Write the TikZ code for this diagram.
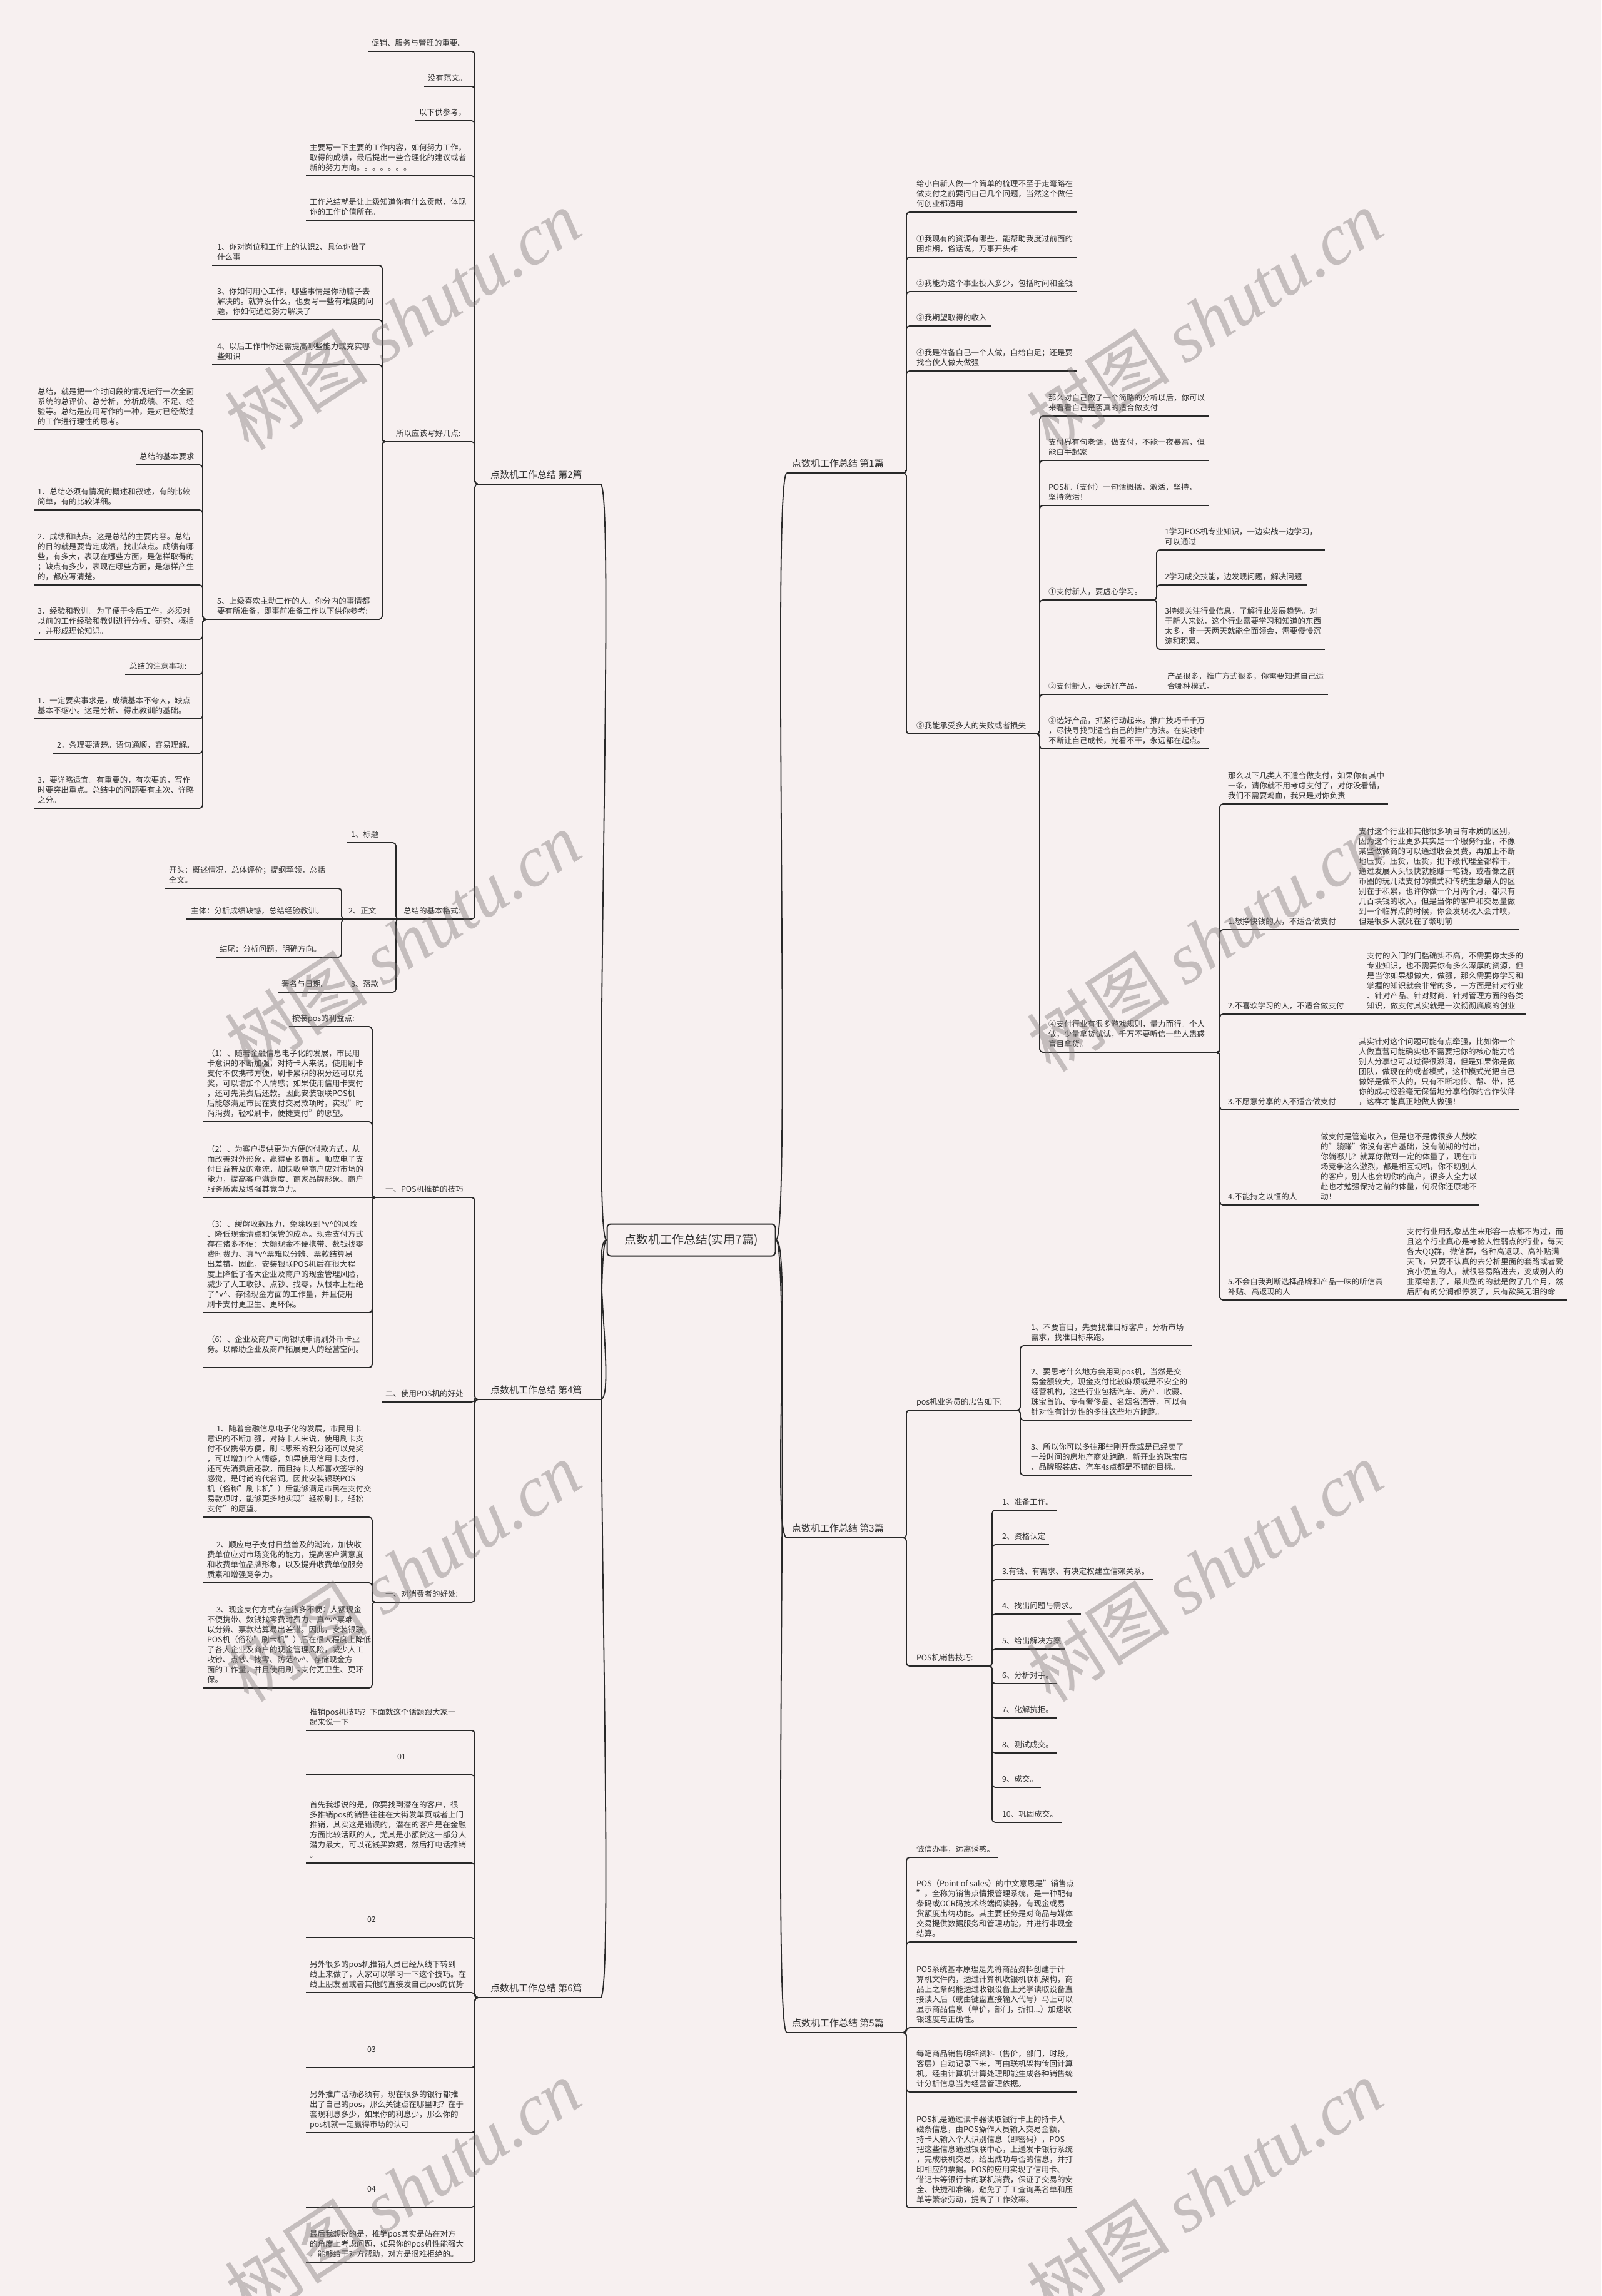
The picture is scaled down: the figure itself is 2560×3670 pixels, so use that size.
\documentclass[tikz,border=0pt]{standalone}
\usepackage{fontspec}
\setmainfont{Noto Sans CJK SC}
\newfontfamily\wmcjk{Noto Sans CJK SC}
\newfontfamily\wmlat{Liberation Serif}
\definecolor{bgc}{RGB}{247,240,240}
\definecolor{lnc}{RGB}{40,40,40}
\definecolor{txc}{RGB}{51,51,51}
\definecolor{wmc}{RGB}{120,114,114}
\newcommand\fa{\fontsize{12.5pt}{16pt}\selectfont}
\newcommand\fb{\fontsize{15pt}{18pt}\selectfont}
\newcommand\fr{\fontsize{19pt}{22pt}\selectfont}
\newcommand\myhv{\textasciicircum v\textasciicircum}
\newcommand\tl[1]{\begin{tabular}[b]{@{}l@{}}#1\end{tabular}}
\tikzset{
 mn/.style={anchor=south west, inner xsep=0pt, inner ysep=4.2pt, outer sep=0pt, text=txc},
 uline/.style={draw=lnc, line width=1.8pt},
 conn/.style={draw=lnc, line width=1.8pt, rounded corners=5pt},
 rootbox/.style={draw=lnc, line width=2pt, rounded corners=6pt, fill=bgc, minimum width=269pt, minimum height=51pt, font=\fr, text=txc, inner sep=0pt},
 wm/.style={rotate=33, text=wmc, opacity=0.4, inner sep=0pt},
}
% name, xs, xe, yU, pad, font, text
\newcommand\mynode[7]{%
 \pgfmathsetlengthmacro\mnw{#3-#2}%
 \node[mn, font=#6] (#1) at (#2,#4) {\makebox[\mnw][l]{\hspace*{#5pt}\tl{#7}}};
 \draw[uline] (#1.south west) -- (#1.south east);}
\newcommand\conR[2]{\draw[conn] (#1.south east) -- ++(5,0) |- (#2.south west);}
\newcommand\conL[2]{\draw[conn] (#1.south west) -- ++(-5,0) |- (#2.south east);}
\newcommand\strR[2]{\draw[conn] (#1.south east) -- (#2.south west);}
\newcommand\strL[2]{\draw[conn] (#1.south west) -- (#2.south east);}
\begin{document}
\begin{tikzpicture}[x=1pt,y=-1pt]
\fill[bgc] (0,0) rectangle (2560,3670);
\useasboundingbox (0,0) rectangle (2560,3670);

% root
\node[rootbox] (root) at (1105,1982) {点数机工作总结(实用7篇)};

% main labels
\mynode{B1}{1258}{1444}{756}{8}{\fb}{点数机工作总结 第1篇}
\mynode{B3}{1258}{1444}{2458}{8}{\fb}{点数机工作总结 第3篇}
\mynode{B5}{1258}{1444}{3249}{8}{\fb}{点数机工作总结 第5篇}
\mynode{B2}{764}{960}{774}{20}{\fb}{点数机工作总结 第2篇}
\mynode{B4}{764}{960}{2237}{20}{\fb}{点数机工作总结 第4篇}
\mynode{B6}{764}{960}{3193}{20}{\fb}{点数机工作总结 第6篇}

\draw[conn] (root.east) .. controls +(25,0) and +(-25,0) .. (B1.south west);
\draw[conn] (root.east) .. controls +(25,0) and +(-25,0) .. (B3.south west);
\draw[conn] (root.east) .. controls +(25,0) and +(-25,0) .. (B5.south west);
\draw[conn] (root.west) .. controls +(-25,0) and +(25,0) .. (B2.south east);
\draw[conn] (root.west) .. controls +(-25,0) and +(25,0) .. (B4.south east);
\draw[conn] (root.west) .. controls +(-25,0) and +(25,0) .. (B6.south east);

% ---------- 第2篇 ----------
\mynode{L1}{589}{753}{82}{5}{\fa}{促销、服务与管理的重要。}
\mynode{L2}{678}{753}{138}{6}{\fa}{没有范文。}
\mynode{L3}{664}{753}{193}{6}{\fa}{以下供参考，}
\mynode{L4}{489}{753}{281}{6}{\fa}{主要写一下主要的工作内容，如何努力工作，\\取得的成绩，最后提出一些合理化的建议或者\\新的努力方向。。。。。。。}
\mynode{L5}{489}{753}{352}{6}{\fa}{工作总结就是让上级知道你有什么贡献，体现\\你的工作价值所在。}
\mynode{L6}{616}{753}{706}{17}{\fa}{所以应该写好几点:}
\mynode{L7}{638}{753}{1469}{7}{\fa}{总结的基本格式:}
\conL{B2}{L1}\conL{B2}{L2}\conL{B2}{L3}\conL{B2}{L4}\conL{B2}{L5}\conL{B2}{L6}\conL{B2}{L7}

\mynode{L6a}{339}{605}{424}{8}{\fa}{1、你对岗位和工作上的认识2、具体你做了\\什么事}
\mynode{L6b}{339}{605}{511}{8}{\fa}{3、你如何用心工作，哪些事情是你动脑子去\\解决的。就算没什么，也要写一些有难度的问\\题，你如何通过努力解决了}
\mynode{L6c}{339}{605}{583}{8}{\fa}{4、以后工作中你还需提高哪些能力或充实哪\\些知识}
\mynode{L6d}{329}{605}{990}{18}{\fa}{5、上级喜欢主动工作的人。你分内的事情都\\要有所准备，即事前准备工作以下供你参考:}
\conL{L6}{L6a}\conL{L6}{L6b}\conL{L6}{L6c}\conL{L6}{L6d}

\mynode{D1}{54}{319}{687}{6}{\fa}{总结，就是把一个时间段的情况进行一次全面\\系统的总评价、总分析，分析成绩、不足、经\\验等。总结是应用写作的一种，是对已经做过\\的工作进行理性的思考。}
\mynode{D2}{217}{319}{743}{6}{\fa}{总结的基本要求}
\mynode{D3}{54}{319}{815}{6}{\fa}{1．总结必须有情况的概述和叙述，有的比较\\简单，有的比较详细。}
\mynode{D4}{54}{319}{935}{6}{\fa}{2．成绩和缺点。这是总结的主要内容。总结\\的目的就是要肯定成绩，找出缺点。成绩有哪\\些，有多大，表现在哪些方面，是怎样取得的\\；缺点有多少，表现在哪些方面，是怎样产生\\的，都应写清楚。}
\mynode{D5}{54}{319}{1022}{6}{\fa}{3．经验和教训。为了便于今后工作，必须对\\以前的工作经验和教训进行分析、研究、概括\\，并形成理论知识。}
\mynode{D6}{200}{319}{1078}{7}{\fa}{总结的注意事项:}
\mynode{D7}{54}{319}{1149}{6}{\fa}{1．一定要实事求是，成绩基本不夸大，缺点\\基本不缩小。这是分析、得出教训的基础。}
\mynode{D8}{84}{319}{1204}{7}{\fa}{2．条理要清楚。语句通顺，容易理解。}
\mynode{D9}{54}{319}{1292}{6}{\fa}{3．要详略适宜。有重要的，有次要的，写作\\时要突出重点。总结中的问题要有主次、详略\\之分。}
\conL{L6d}{D1}\conL{L6d}{D2}\conL{L6d}{D3}\conL{L6d}{D4}\conL{L6d}{D5}\conL{L6d}{D6}\conL{L6d}{D7}\conL{L6d}{D8}\conL{L6d}{D9}

\mynode{G1}{555}{626}{1347}{6}{\fa}{1、标题}
\mynode{G2}{551}{626}{1469}{6}{\fa}{2、正文}
\mynode{G3}{555}{626}{1586}{6}{\fa}{3、落款}
\conL{L7}{G1}\strL{L7}{G2}\conL{L7}{G3}
\mynode{G2a}{264}{539}{1420}{6}{\fa}{开头：概述情况，总体评价；提纲挈领，总括\\全文。}
\mynode{G2b}{298}{539}{1469}{7}{\fa}{主体：分析成绩缺憾，总结经验教训。}
\mynode{G2c}{345}{539}{1530}{6}{\fa}{结尾：分析问题，明确方向。}
\conL{G2}{G2a}\strL{G2}{G2b}\conL{G2}{G2c}
\mynode{G3a}{444}{555}{1586}{6}{\fa}{署名与日期。}
\strL{G3}{G3a}

% ---------- 第4篇 ----------
\mynode{F1}{600}{753}{1914}{16}{\fa}{一、POS机推销的技巧}
\mynode{F2}{610}{753}{2241}{6}{\fa}{二、使用POS机的好处}
\mynode{F3}{600}{753}{2561}{16}{\fa}{一、对消费者的好处:}
\conL{B4}{F1}\conL{B4}{F2}\conL{B4}{F3}
\mynode{F1a}{462}{588}{1641}{5}{\fa}{按装pos的利益点:}
\mynode{F1b}{324}{588}{1793}{7}{\fa}{（1）、随着金融信息电子化的发展，市民用\\卡意识的不断加强，对持卡人来说，使用刷卡\\支付不仅携带方便，刷卡累积的积分还可以兑\\奖，可以增加个人情感；如果使用信用卡支付\\，还可先消费后还款。因此安装银联POS机\\后能够满足市民在支付交易款项时，实现"时\\尚消费，轻松刷卡，便捷支付"的愿望。}
\mynode{F1c}{324}{588}{1914}{7}{\fa}{（2）、为客户提供更为方便的付款方式，从\\而改善对外形象，赢得更多商机。顺应电子支\\付日益普及的潮流，加快收单商户应对市场的\\能力，提高客户满意度、商家品牌形象、商户\\服务质素及增强其竞争力。}
\mynode{F1d}{324}{588}{2098}{7}{\fa}{（3）、缓解收款压力，免除收到\myhv 的风险\\、降低现金清点和保管的成本。现金支付方式\\存在诸多不便：大额现金不便携带、数钱找零\\费时费力、真\myhv 票难以分辨、票款结算易\\出差错。因此，安装银联POS机后在很大程\\度上降低了各大企业及商户的现金管理风险，\\减少了人工收钞、点钞、找零，从根本上杜绝\\了\myhv 、存储现金方面的工作量，并且使用\\刷卡支付更卫生、更环保。}
\mynode{F1e}{324}{588}{2186}{7}{\fa}{（6）、企业及商户可向银联申请刷外币卡业\\务。以帮助企业及商户拓展更大的经营空间。\\ \strut}
\conL{F1}{F1a}\conL{F1}{F1b}\strL{F1}{F1c}\conL{F1}{F1d}\conL{F1}{F1e}
\mynode{F3a}{324}{588}{2425}{7}{\fa}{\hspace*{15pt}1、随着金融信息电子化的发展，市民用卡\\意识的不断加强，对持卡人来说，使用刷卡支\\付不仅携带方便，刷卡累积的积分还可以兑奖\\，可以增加个人情感，如果使用信用卡支付，\\还可先消费后还款，而且持卡人都喜欢签字的\\感觉，是时尚的代名词。因此安装银联POS\\机（俗称"刷卡机"）后能够满足市民在支付交\\易款项时，能够更多地实现"轻松刷卡，轻松\\支付"的愿望。}
\mynode{F3b}{324}{588}{2530}{7}{\fa}{\hspace*{15pt}2、顺应电子支付日益普及的潮流，加快收\\费单位应对市场变化的能力，提高客户满意度\\和收费单位品牌形象，以及提升收费单位服务\\质素和增强竞争力。}
\mynode{F3c}{324}{588}{2698}{7}{\fa}{\hspace*{15pt}3、现金支付方式存在诸多不便：大额现金\\不便携带、数钱找零费时费力、真\myhv 票难\\以分辨、票款结算易出差错。因此，安装银联\\POS机（俗称"刷卡机"）后在很大程度上降低\\了各大企业及商户的现金管理风险，减少人工\\收钞、点钞、找零、防范\myhv 、存储现金方\\面的工作量，并且使用刷卡支付更卫生、更环\\保。}
\conL{F3}{F3a}\conL{F3}{F3b}\conL{F3}{F3c}

% ---------- 第6篇 ----------
\mynode{S1}{489}{753}{2766}{6}{\fa}{推销pos机技巧？下面就这个话题跟大家一\\起来说一下}
\mynode{S2}{489}{753}{2837}{146}{\fa}{01\\ \strut}
\mynode{S3}{489}{753}{2978}{6}{\fa}{首先我想说的是，你要找到潜在的客户，很\\多推销pos的销售往往在大街发单页或者上门\\推销，其实这是错误的，潜在的客户是在金融\\方面比较活跃的人，尤其是小额贷这一部分人\\潜力最大，可以花钱买数据，然后打电话推销\\。}
\mynode{S4}{489}{753}{3097}{98}{\fa}{02\\ \strut}
\mynode{S5}{489}{753}{3185}{6}{\fa}{另外很多的pos机推销人员已经从线下转到\\线上来做了，大家可以学习一下这个技巧。在\\线上朋友圈或者其他的直接发自己pos的优势}
\mynode{S6}{489}{753}{3305}{98}{\fa}{03\\ \strut}
\mynode{S7}{489}{753}{3409}{6}{\fa}{另外推广活动必须有，现在很多的银行都推\\出了自己的pos，那么关键点在哪里呢？在于\\套现利息多少，如果你的利息少，那么你的\\pos机就一定赢得市场的认可}
\mynode{S8}{489}{753}{3528}{98}{\fa}{04\\ \strut}
\mynode{S9}{489}{753}{3616}{6}{\fa}{最后我想说的是，推销pos其实是站在对方\\的角度上考虑问题，如果你的pos机性能强大\\，能够给于对方帮助，对方是很难拒绝的。}
\conL{B6}{S1}\conL{B6}{S2}\conL{B6}{S3}\conL{B6}{S4}\conL{B6}{S5}\conL{B6}{S6}\conL{B6}{S7}\conL{B6}{S8}\conL{B6}{S9}

% ---------- 第1篇 ----------
\mynode{R1}{1457}{1722}{339}{8}{\fa}{给小白新人做一个简单的梳理不至于走弯路在\\做支付之前要问自己几个问题，当然这个做任\\何创业都适用}
\mynode{R2}{1457}{1722}{411}{8}{\fa}{①我现有的资源有哪些，能帮助我度过前面的\\困难期，俗话说，万事开头难}
\mynode{R3}{1457}{1722}{466}{8}{\fa}{②我能为这个事业投入多少，包括时间和金钱}
\mynode{R4}{1457}{1585}{521}{8}{\fa}{③我期望取得的收入}
\mynode{R5}{1457}{1722}{593}{8}{\fa}{④我是准备自己一个人做，自给自足；还是要\\找合伙人做大做强}
\mynode{R6}{1457}{1657}{1173}{8}{\fa}{⑤我能承受多大的失败或者损失}
\conR{B1}{R1}\conR{B1}{R2}\conR{B1}{R3}\conR{B1}{R4}\conR{B1}{R5}\conR{B1}{R6}

\mynode{R6a}{1668}{1933}{665}{8}{\fa}{那么对自己做了一个简略的分析以后，你可以\\来看看自己是否真的适合做支付}
\mynode{R6b}{1668}{1933}{736}{8}{\fa}{支付界有句老话，做支付，不能一夜暴富，但\\能白手起家}
\mynode{R6c}{1668}{1933}{808}{8}{\fa}{POS机（支付）一句话概括，激活，坚持，\\坚持激活！}
\mynode{R6d}{1668}{1844}{959}{8}{\fa}{①支付新人，要虚心学习。}
\mynode{R6e}{1668}{1862}{1110}{8}{\fa}{②支付新人，要选好产品。}
\mynode{R6f}{1668}{1933}{1197}{8}{\fa}{③选好产品，抓紧行动起来。推广技巧千千万\\，尽快寻找到适合自己的推广方法。在实践中\\不断让自己成长，光看不干，永远都在起点。}
\mynode{R6g}{1668}{1945}{1682}{8}{\fa}{④支付行业有很多游戏规则，量力而行。个人\\做，少量拿货试试，千万不要听信一些人蛊惑\\盲目拿货。}
\conR{R6}{R6a}\conR{R6}{R6b}\conR{R6}{R6c}\conR{R6}{R6d}\conR{R6}{R6e}\conR{R6}{R6f}\conR{R6}{R6g}

\mynode{R6d1}{1855}{2118}{879}{7}{\fa}{1学习POS机专业知识，一边实战一边学习，\\可以通过}
\mynode{R6d2}{1855}{2089}{935}{7}{\fa}{2学习成交技能，边发现问题，解决问题}
\mynode{R6d3}{1855}{2118}{1038}{7}{\fa}{3持续关注行业信息，了解行业发展趋势。对\\于新人来说，这个行业需要学习和知道的东西\\太多，非一天两天就能全面领会，需要慢慢沉\\淀和积累。}
\conR{R6d}{R6d1}\conR{R6d}{R6d2}\conR{R6d}{R6d3}
\mynode{R6e1}{1862}{2123}{1110}{4}{\fa}{产品很多，推广方式很多，你需要知道自己适\\合哪种模式。}
\strR{R6e}{R6e1}

\mynode{W0}{1956}{2219}{1285}{7}{\fa}{那么以下几类人不适合做支付，如果你有其中\\一条，请你就不用考虑支付了，对你没看错，\\我们不需要鸡血，我只是对你负责}
\mynode{W1}{1956}{2162}{1486}{7}{\fa}{1.想挣快钱的人，不适合做支付}
\mynode{W2}{1956}{2175}{1621}{7}{\fa}{2.不喜欢学习的人，不适合做支付}
\mynode{W3}{1956}{2162}{1774}{7}{\fa}{3.不愿意分享的人不适合做支付}
\mynode{W4}{1956}{2100}{1926}{7}{\fa}{4.不能持之以恒的人}
\mynode{W5}{1956}{2238}{2078}{7}{\fa}{5.不会自我判断选择品牌和产品一味的听信高\\补贴、高返现的人}
\conR{R6g}{W0}\conR{R6g}{W1}\conR{R6g}{W2}\conR{R6g}{W3}\conR{R6g}{W4}\conR{R6g}{W5}
\mynode{W1c}{2162}{2428}{1486}{10}{\fa}{支付这个行业和其他很多项目有本质的区别，\\因为这个行业更多其实是一个服务行业，不像\\某些做微商的可以通过收会员费，再加上不断\\地压货，压货，压货，把下级代理全都榨干，\\通过发展人头很快就能赚一笔钱，或者像之前\\币圈的玩儿法支付的模式和传统生意最大的区\\别在于积累，也许你做一个月两个月，都只有\\几百块钱的收入，但是当你的客户和交易量做\\到一个临界点的时候，你会发现收入会井喷，\\但是很多人就死在了黎明前}
\mynode{W2c}{2175}{2439}{1621}{10}{\fa}{支付的入门的门槛确实不高，不需要你太多的\\专业知识，也不需要你有多么深厚的资源，但\\是当你如果想做大，做强，那么需要你学习和\\掌握的知识就会非常的多，一方面是针对行业\\、针对产品、针对财商、针对管理方面的各类\\知识，做支付其实就是一次彻彻底底的创业}
\mynode{W3c}{2162}{2428}{1774}{10}{\fa}{其实针对这个问题可能有点牵强，比如你一个\\人做直营可能确实也不需要把你的核心能力给\\别人分享也可以过得很滋润，但是如果你是做\\团队，做现在的或者模式，这种模式光把自己\\做好是做不大的，只有不断地传、帮、带，把\\你的成功经验毫无保留地分享给你的合作伙伴\\，这样才能真正地做大做强！}
\mynode{W4c}{2100}{2365}{1926}{11}{\fa}{做支付是管道收入，但是也不是像很多人鼓吹\\的"躺赚"你没有客户基础，没有前期的付出，\\你躺哪儿？就算你做到一定的体量了，现在市\\场竞争这么激烈，都是相互切机，你不切别人\\的客户，别人也会切你的商户，很多人全力以\\赴也才勉强保持之前的体量，何况你还原地不\\动！}
\mynode{W5c}{2238}{2505}{2078}{11}{\fa}{支付行业用乱象丛生来形容一点都不为过，而\\且这个行业真心是考验人性弱点的行业，每天\\各大QQ群，微信群，各种高返现、高补贴满\\天飞，只要不认真的去分析里面的套路或者爱\\贪小便宜的人，就很容易陷进去，变成别人的\\韭菜给割了，最典型的的就是做了几个月，然\\后所有的分润都停发了，只有欲哭无泪的命}
\strR{W1}{W1c}\strR{W2}{W2c}\strR{W3}{W3c}\strR{W4}{W4c}\strR{W5}{W5c}

% ---------- 第3篇 ----------
\mynode{T1}{1457}{1626}{2254}{8}{\fa}{pos机业务员的忠告如下:}
\mynode{T2}{1457}{1581}{2663}{8}{\fa}{POS机销售技巧:}
\conR{B3}{T1}\conR{B3}{T2}
\mynode{T1a}{1639}{1906}{2151}{9}{\fa}{1、不要盲目，先要找准目标客户，分析市场\\需求，找准目标来跑。}
\mynode{T1b}{1639}{1906}{2270}{9}{\fa}{2、要思考什么地方会用到pos机，当然是交\\易金额较大，现金支付比较麻烦或是不安全的\\经营机构，这些行业包括汽车、房产、收藏、\\珠宝首饰、专有奢侈品、名烟名酒等，可以有\\针对性有计划性的多往这些地方跑跑。}
\mynode{T1c}{1639}{1906}{2358}{9}{\fa}{3、所以你可以多往那些刚开盘或是已经卖了\\一段时间的房地产商处跑跑，新开业的珠宝店\\、品牌服装店、汽车4s点都是不错的目标。}
\conR{T1}{T1a}\conR{T1}{T1b}\conR{T1}{T1c}
\mynode{Ta}{1594}{1689}{2414}{8}{\fa}{1、准备工作。}
\mynode{Tb}{1594}{1677}{2469}{8}{\fa}{2、资格认定}
\mynode{Tc}{1594}{1843}{2525}{8}{\fa}{3.有钱、有需求、有决定权建立信赖关系。}
\mynode{Td}{1594}{1728}{2580}{8}{\fa}{4、找出问题与需求。}
\mynode{Te}{1594}{1702}{2636}{8}{\fa}{5、给出解决方案}
\mynode{Tf}{1594}{1689}{2691}{8}{\fa}{6、分析对手。}
\mynode{Tg}{1594}{1689}{2746}{8}{\fa}{7、化解抗拒。}
\mynode{Th}{1594}{1689}{2802}{8}{\fa}{8、测试成交。}
\mynode{Ti}{1594}{1664}{2857}{8}{\fa}{9、成交。}
\mynode{Tj}{1594}{1697}{2913}{8}{\fa}{10、巩固成交。}
\conR{T2}{Ta}\conR{T2}{Tb}\conR{T2}{Tc}\conR{T2}{Td}\conR{T2}{Te}\conR{T2}{Tf}\conR{T2}{Tg}\conR{T2}{Th}\conR{T2}{Ti}\conR{T2}{Tj}

% ---------- 第5篇 ----------
\mynode{V1}{1457}{1596}{2969}{8}{\fa}{诚信办事，远离诱惑。}
\mynode{V2}{1457}{1722}{3104}{8}{\fa}{POS（Point of sales）的中文意思是"销售点\\"，全称为销售点情报管理系统，是一种配有\\条码或OCR码技术终端阅读器，有现金或易\\货额度出纳功能。其主要任务是对商品与媒体\\交易提供数据服务和管理功能，并进行非现金\\结算。}
\mynode{V3}{1457}{1722}{3241}{8}{\fa}{POS系统基本原理是先将商品资料创建于计\\算机文件内，透过计算机收银机联机架构，商\\品上之条码能透过收银设备上光学读取设备直\\接读入后（或由键盘直接输入代号）马上可以\\显示商品信息（单价，部门，折扣...）加速收\\银速度与正确性。}
\mynode{V4}{1457}{1722}{3344}{8}{\fa}{每笔商品销售明细资料（售价，部门，时段，\\客层）自动记录下来，再由联机架构传回计算\\机。经由计算机计算处理即能生成各种销售统\\计分析信息当为经营管理依据。}
\mynode{V5}{1457}{1722}{3529}{8}{\fa}{POS机是通过读卡器读取银行卡上的持卡人\\磁条信息，由POS操作人员输入交易金额，\\持卡人输入个人识别信息（即密码），POS\\把这些信息通过银联中心，上送发卡银行系统\\，完成联机交易，给出成功与否的信息，并打\\印相应的票据。POS的应用实现了信用卡、\\借记卡等银行卡的联机消费，保证了交易的安\\全、快捷和准确，避免了手工查询黑名单和压\\单等繁杂劳动，提高了工作效率。}
\conR{B5}{V1}\conR{B5}{V2}\conR{B5}{V3}\conR{B5}{V4}\conR{B5}{V5}

% watermarks
\foreach \wx/\wy [count=\wi] in {644/511,1926/511,644/1505,1926/1505,644/2512,1926/2512,644/3500,1926/3500}
  \node[wm] (wm\wi) at (\wx,\wy) {\fontsize{115pt}{120pt}\selectfont{\wmcjk 树图} {\wmlat\itshape shutu.cn}};
\end{tikzpicture}
\end{document}
